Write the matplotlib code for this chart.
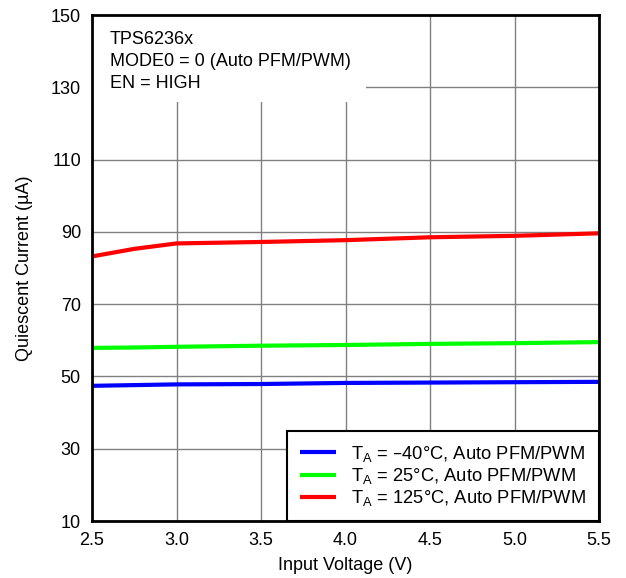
import matplotlib
matplotlib.use("Agg")
import matplotlib.pyplot as plt
from matplotlib.patches import Rectangle

plt.rcParams['font.family'] = ['Liberation Sans', 'DejaVu Sans']

vin = [2.5, 2.75, 3.0, 3.5, 4.0, 4.5, 5.0, 5.5]
iq_m40 = [47.4, 47.6, 47.8, 47.9, 48.2, 48.3, 48.4, 48.5]
iq_25 = [57.9, 58.0, 58.2, 58.5, 58.7, 59.0, 59.2, 59.5]
iq_125 = [83.2, 85.3, 86.8, 87.2, 87.7, 88.5, 88.9, 89.6]
labels = [r'T$_\mathregular{A}$ = –40°C, Auto PFM/PWM',
          r'T$_\mathregular{A}$ = 25°C, Auto PFM/PWM',
          r'T$_\mathregular{A}$ = 125°C, Auto PFM/PWM']
xticks = [2.5, 3.0, 3.5, 4.0, 4.5, 5.0, 5.5]
yticks = [10, 30, 50, 70, 90, 110, 130, 150]

FS = 13

fig = plt.figure(figsize=(6.26, 5.78), dpi=100)
ax = fig.add_axes([92/626, 1-521/578, (599-92)/626, (521-15)/578])
ax.set_xlim(2.5, 5.5)
ax.set_ylim(10, 150)
ax.set_xticks(xticks)
ax.set_xticklabels([f'{v:.1f}' for v in xticks])
ax.set_yticks(yticks)
ax.tick_params(axis='y', length=0, labelsize=FS, pad=8)
ax.tick_params(axis='x', length=0, labelsize=FS, pad=8)
ax.grid(True, color='#808080', linewidth=1)
ax.set_axisbelow(True)
for s in ax.spines.values():
    s.set_linewidth(2)
    s.set_color('black')
    s.set_zorder(10)

ax.plot(vin, iq_m40, color='#0000ff', lw=3, label=labels[0], solid_capstyle='butt')
ax.plot(vin, iq_25, color='#00ff00', lw=3, label=labels[1], solid_capstyle='butt')
ax.plot(vin, iq_125, color='#ff0000', lw=3, label=labels[2], solid_capstyle='butt')

ax.set_xlabel('Input Voltage (V)', fontsize=FS, labelpad=6)
ax.set_ylabel('Quiescent Current (µA)', fontsize=FS, labelpad=13)

ax.add_patch(Rectangle((0, 0.828), 0.541, 0.172, transform=ax.transAxes,
                       facecolor='white', edgecolor='none', zorder=1))
ax.text(0.035, 0.969, 'TPS6236x\nMODE0 = 0 (Auto PFM/PWM)\nEN = HIGH',
        transform=ax.transAxes, va='top', ha='left', fontsize=FS, linespacing=1.38,
        zorder=5)

leg = ax.legend(loc='lower right', prop={'size': 13.2}, frameon=True, fancybox=False,
                edgecolor='black', borderaxespad=0, handlelength=2.0, labelspacing=0.12,
                borderpad=0.7, handletextpad=0.8)
leg.get_frame().set_linewidth(1.5)
leg.get_frame().set_alpha(1)
leg.set_zorder(8)

fig.savefig('out.png', dpi=100)
